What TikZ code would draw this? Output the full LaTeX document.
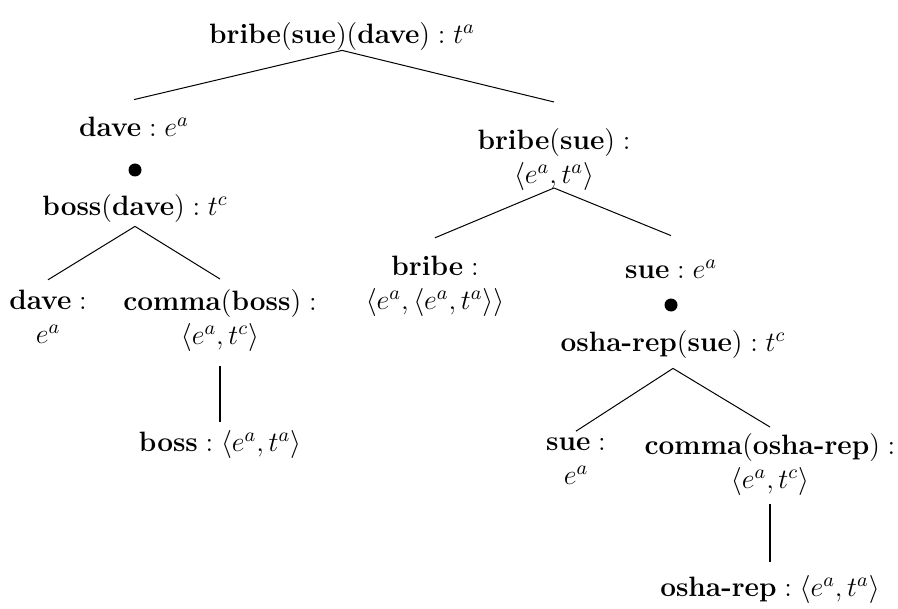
\RequirePackage{fix-cm}
\documentclass[tikz,border=0pt]{standalone}
\usepackage{amsmath}
\usepackage{tikz}
\newcommand{\twoline}[2]{#1\\\strut#2}

\begin{document}
\begin{tikzpicture}[x=0.5pt, y=-0.5pt,
  lbl/.style={align=center, inner sep=0pt, font=\fontsize{14}{17}\selectfont, execute at begin node=\strut},
  branch/.style={line width=0.5pt},
  unary/.style={line width=1.2pt},
  bullet/.style={circle, fill, inner sep=0pt, minimum size=6.5pt}]
\useasboundingbox (0,0) rectangle (898,609);
% top level
\node[lbl] (root) at (342,37) {$\textbf{bribe}(\textbf{sue})(\textbf{dave}) : t^a$};
% left subtree
\node[lbl] (daveA) at (134,130) {$\textbf{dave} : e^a$};
\node[bullet] (dot1) at (135,170) {};
\node[lbl] (bossdave) at (135,209) {$\textbf{boss}(\textbf{dave}) : t^c$};
\node[lbl] (daveB) at (48,322) {\twoline{$\textbf{dave} :$}{$e^a$}};
\node[lbl] (commaboss) at (220,322) {\twoline{$\textbf{comma}(\textbf{boss}) :$}{$\langle e^a, t^c\rangle$}};
\node[lbl] (boss) at (220,445) {$\textbf{boss} : \langle e^a, t^a\rangle$};
% right subtree
\node[lbl] (bribesue) at (554,161) {\twoline{$\textbf{bribe}(\textbf{sue}) :$}{$\langle e^a, t^a\rangle$}};
\node[lbl] (bribe) at (435,288) {\twoline{$\textbf{bribe} :$}{$\langle e^a, \langle e^a, t^a\rangle\rangle$}};
\node[lbl] (sueA) at (671,272) {$\textbf{sue} : e^a$};
\node[bullet] (dot2) at (671,305) {};
\node[lbl] (osharepsue) at (673,345) {$\textbf{osha-rep}(\textbf{sue}) : t^c$};
\node[lbl] (sueB) at (576,466) {\twoline{$\textbf{sue} :$}{$e^a$}};
\node[lbl] (commaosha) at (770,466) {\twoline{$\textbf{comma}(\textbf{osha-rep}) :$}{$\langle e^a, t^c\rangle$}};
\node[lbl] (osharep) at (770,590) {$\textbf{osha-rep} : \langle e^a, t^a\rangle$};

\draw[branch] ([yshift=2pt]root.south) -- ([yshift=6.5pt]daveA.north);
\draw[branch] ([yshift=2pt]root.south) -- ([yshift=13pt]bribesue.north);
\draw[branch] (bossdave.south) -- ([yshift=5pt]daveB.north);
\draw[branch] (bossdave.south) -- ([yshift=5pt]commaboss.north);
\draw[unary] ([yshift=-5.5pt]commaboss.south) -- ([yshift=3pt]boss.north);
\draw[branch] ([yshift=3pt]bribesue.south) -- ([yshift=9pt]bribe.north);
\draw[branch] ([yshift=3pt]bribesue.south) -- ([yshift=9.5pt]sueA.north);
\draw[branch] ([yshift=-3pt]osharepsue.south) -- ([yshift=3pt]sueB.north);
\draw[branch] ([yshift=-3pt]osharepsue.south) -- ([yshift=3pt]commaosha.north);
\draw[unary] ([yshift=-2.5pt]commaosha.south) -- ([yshift=5.5pt]osharep.north);
\end{tikzpicture}
\end{document}
